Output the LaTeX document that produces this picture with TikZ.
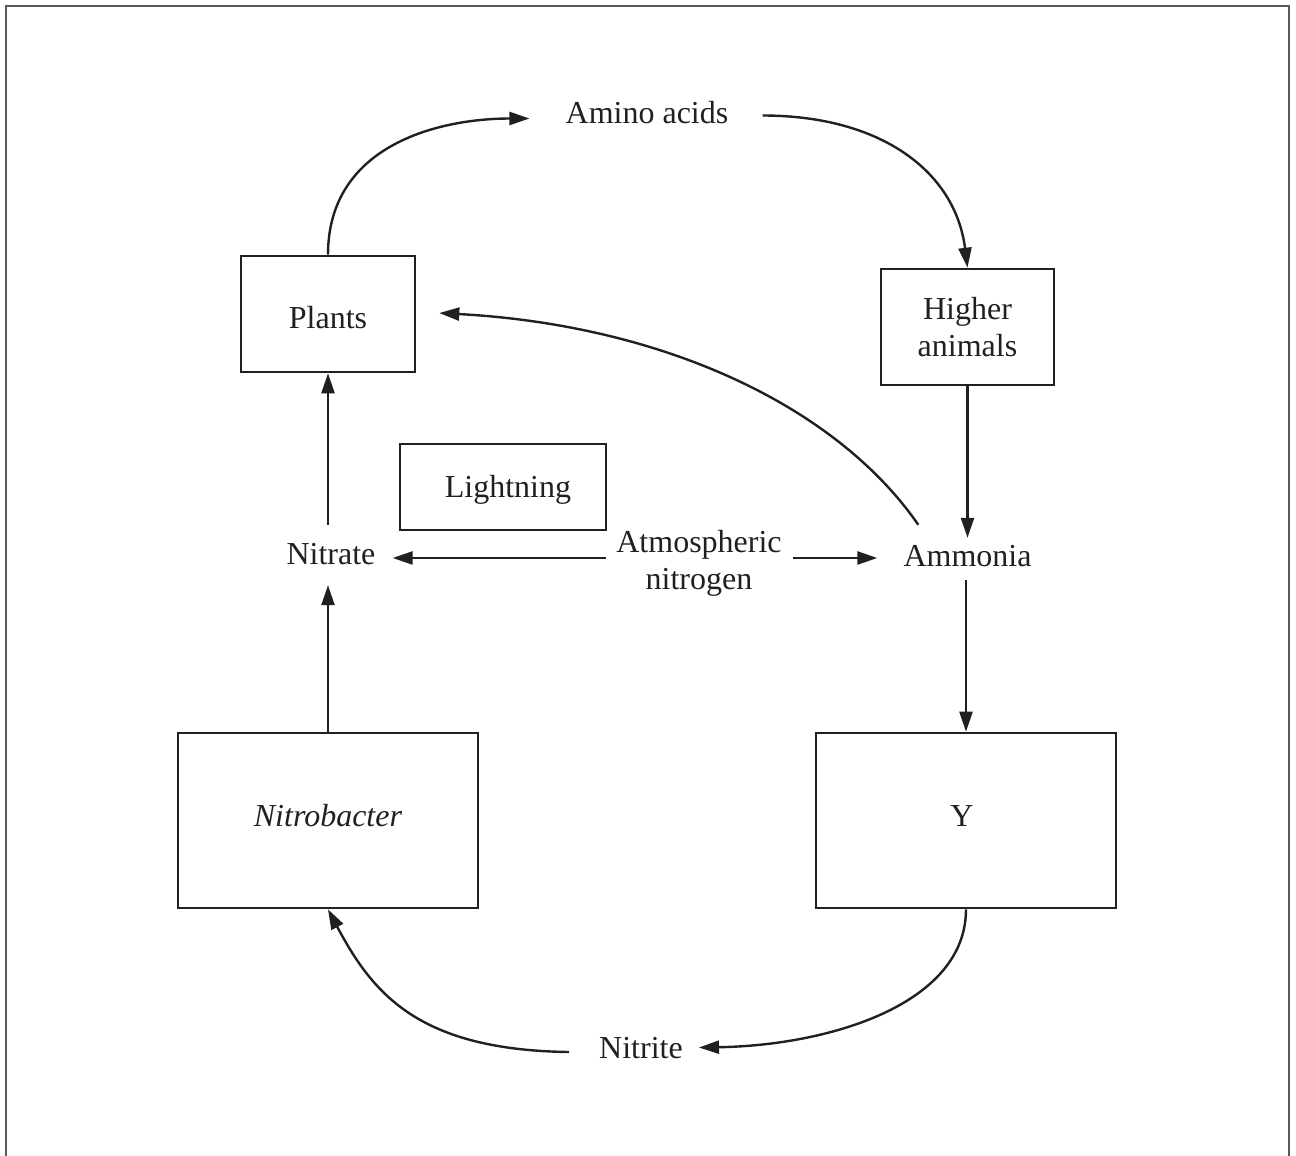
\documentclass[tikz,border=0pt]{standalone}
\usepackage{fontspec}
\setmainfont{Liberation Serif}
\usetikzlibrary{arrows.meta,calc}
\definecolor{ink}{HTML}{231F20}
\definecolor{framec}{HTML}{5A5A5A}
\begin{document}
\begin{tikzpicture}[x=1pt,y=-1pt,
  every node/.style={font=\fontsize{32}{37}\selectfont, text=ink},
  lbl/.style={inner sep=0pt, align=center},
  boxn/.style={draw=ink, line width=2.6pt, inner sep=0pt, align=center},
  arr/.style={draw=ink, line width=2.4pt, -{Triangle[length=20pt,width=13pt]}}]
\useasboundingbox (0,0) rectangle (1296,1156);
% outer frame (open at bottom)
\draw[framec, line width=2pt] (6,1156) -- (6,6) -- (1289,6) -- (1289,1156);

% boxes
\node[boxn, minimum width=174pt, minimum height=116pt, text height=29pt, text depth=0pt] (plants) at (328,314) {Plants};
\node[boxn, minimum width=173pt, minimum height=116pt] (higher) at (967.5,327) {Higher\\animals};
\node[boxn, minimum width=206pt, minimum height=86pt, text height=27pt, text depth=7pt] (light) at (503,487) {\hspace*{10pt}Lightning};
\node[boxn, minimum width=300pt, minimum height=175pt, text height=22pt, text depth=10pt] (nitrobacter) at (328,820.5) {\textit{Nitrobacter}};
\node[boxn, minimum width=300pt, minimum height=175pt, text height=22pt, text depth=10pt] (Y) at (966,820.5) {\hspace*{-8pt}Y};

% labels
\node[lbl, anchor=base, text height=22pt, text depth=7pt] (amino) at (647,123) {Amino acids};
\node[lbl, anchor=base, text height=22pt, text depth=7pt] (nitrate) at (331,564) {Nitrate};
\node[lbl, anchor=base, text height=22pt, text depth=7pt] (ammonia) at (967.5,566) {Ammonia};
\node[lbl, anchor=base, text height=22pt, text depth=7pt] (nitrite) at (641,1058) {Nitrite};
\node[lbl, anchor=base] (atm) at (699,589) {Atmospheric\\nitrogen};

% connectors
\draw[arr] (plants.north) .. controls +(0,-110) and +(-90,0) .. ($(amino.west)+(-36,3)$);
\draw[arr] ($(amino.east)+(34,0)$) .. controls +(120,0) and +(-12,-95) .. (higher.north);
\draw[arr] (higher.south) -- ($(ammonia.north)+(0,-6)$);
\draw[arr] ($(ammonia.north west)+(15,-19)$) .. controls +(-83,-120) and +(222,12) .. ($(plants.east)+(23,-1)$);
\draw[arr] ($(Y.north |- ammonia.south)+(0,7)$) -- (Y.north);
\draw[arr] (Y.south) .. controls +(0,95) and +(130,-2) .. ($(nitrite.east)+(16,-3)$);
\draw[arr] ($(nitrite.west)+(-30,1.5)$) .. controls +(-150,-2) and +(45,85) .. (nitrobacter.south);
\draw[arr] (nitrobacter.north) -- ($(nitrobacter.north |- nitrate.south)+(0,14)$);
\draw[arr] ($(plants.south |- nitrate.north)+(0,-17)$) -- (plants.south);
\draw[arr] ($(atm.west |- nitrate)+(-10,1.5)$) -- ($(nitrate.east)+(17,1.5)$);
\draw[arr] ($(atm.east |- nitrate)+(11,1.5)$) -- ($(ammonia.west |- nitrate)+(-26,1.5)$);
\end{tikzpicture}
\end{document}
